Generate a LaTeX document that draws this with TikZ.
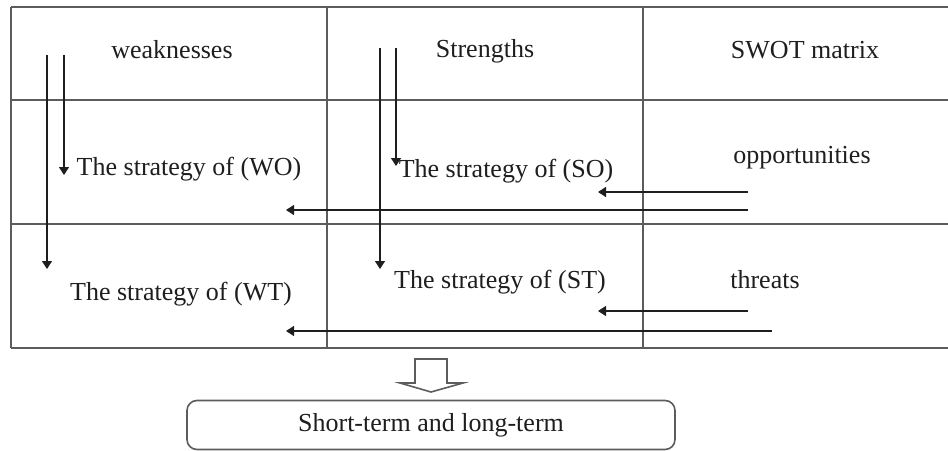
\documentclass[tikz,border=0pt]{standalone}
\usepackage{fontspec}
\setmainfont{Liberation Serif}
\usetikzlibrary{arrows.meta}
\definecolor{swink}{HTML}{1E1E1E}
\definecolor{swline}{HTML}{5C5C5C}

\begin{document}
\begin{tikzpicture}[
  x=0.5pt, y=-0.5pt,
  font=\rmfamily,
  grid/.style={draw=swline, line width=0.7pt},
  lbl/.style={anchor=base, text=swink, font=\rmfamily\fontsize{13}{15}\selectfont, inner sep=0pt},
  flow/.style={draw=swink, line width=0.6pt, -{Triangle[length=4pt,width=5pt]}},
  result/.style={
    draw=swline, line width=0.8pt, rounded corners=5pt, text=swink,
    font=\rmfamily\fontsize{13}{15}\selectfont,
    minimum width=244pt, minimum height=24.5pt, inner sep=0pt
  },
]
\useasboundingbox (0,0) rectangle (948,450);

% ---- table (open at the right edge) ----
\def\xL{11}  \def\xA{327} \def\xB{643} \def\xR{948}
\def\yT{7}   \def\yA{100} \def\yB{224} \def\yE{348}
\foreach \y in {\yT,\yA,\yB,\yE}{
  \draw[grid] (\xL,\y) -- (\xR,\y);
}
\foreach \x in {\xL,\xA,\xB}{
  \draw[grid] (\x,\yT) -- (\x,\yE);
}

% ---- cell labels (at baselines) ----
\node[lbl] (weak) at (172,58) {weaknesses};
\node[lbl] (str)  at (485,57) {Strengths};
\node[lbl] (swot) at (805,58) {SWOT matrix};
\node[lbl] (wo)   at (189,175) {The strategy of (WO)};
\node[lbl] (so)   at (506,177) {The strategy of (SO)};
\node[lbl] (opp)  at (802,163) {opportunities};
\node[lbl] (wt)   at (181,300) {The strategy of (WT)};
\node[lbl] (st)   at (500,288) {The strategy of (ST)};
\node[lbl] (thr)  at (765,288) {threats};

% ---- arrow ends ----
\coordinate (w1s) at (47,55);   \coordinate (w1e) at (47,269);
\coordinate (w2s) at (64,55);   \coordinate (w2e) at (64,175);
\coordinate (s1s) at (380,48);  \coordinate (s1e) at (380,269);
\coordinate (s2s) at (396,48);  \coordinate (s2e) at (396,166);
\coordinate (o1s) at (748,192); \coordinate (o1e) at (598,192);
\coordinate (o2s) at (748,210); \coordinate (o2e) at (286,210);
\coordinate (t1s) at (748,311); \coordinate (t1e) at (598,311);
\coordinate (t2s) at (772,331); \coordinate (t2e) at (286,331);

\draw[flow] (w1s) -- (w1e);
\draw[flow] (w2s) -- (w2e);
\draw[flow] (s1s) -- (s1e);
\draw[flow] (s2s) -- (s2e);
\draw[flow] (o1s) -- (o1e);
\draw[flow] (o2s) -- (o2e);
\draw[flow] (t1s) -- (t1e);
\draw[flow] (t2s) -- (t2e);

% ---- outcome ----
\draw[draw=swline, line width=0.8pt, line join=miter]
  (415,359) -- (447,359) -- (447,383) -- (463,383) -- (431,392)
  -- (400,383) -- (415,383) -- cycle;
\node[result] (out) at (431,425) {Short-term and long-term};

\end{tikzpicture}
\end{document}
